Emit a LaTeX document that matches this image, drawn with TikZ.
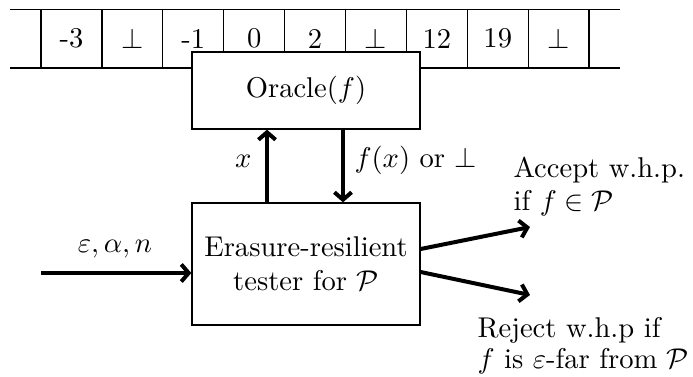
\documentclass[tikz,border=0pt]{standalone}
\usetikzlibrary{arrows.meta,calc}
\begin{document}
\begin{tikzpicture}[x=0.35pt,y=-0.35pt,
  thin line/.style={line width=0.45pt},
  cell/.style={thin line,draw,rectangle,inner sep=0pt,
    minimum width=21.3pt,minimum height=20.5pt},
  block/.style={thin line,draw,fill=white,rectangle,inner sep=0pt,
    minimum width=79.8pt,align=center},
  flow/.style={line width=1.4pt,-{Straight Barb[length=2.6pt,width=6pt]}},
  lbl/.style={inner sep=0pt}]
\useasboundingbox (0,0) rectangle (693,377);

% the array of values, with erased entries shown as \bot
\draw[thin line] (10,9.5) -- (620,9.5);
\draw[thin line] (10,68) -- (620,68);
\foreach \v [count=\i] in {-3,$\bot$,-1,0,2,$\bot$,12,19,$\bot$}
  \node[cell] (c\i) at ({41+60.9*(\i-0.5)},38.75) {\v};

% oracle and tester boxes
\node[block,minimum height=26.95pt] (oracle) at (306,90.5) {Oracle($f$)};
\node[block,minimum height=42.7pt] (tester) at (306,264)
  {Erasure-resilient\\tester for $\mathcal{P}$};

% queries and answers
\draw[flow] (267,0 |- tester.north) -- (267,0 |- oracle.south);
\draw[flow] (343,0 |- oracle.south) -- (343,0 |- tester.north);
\node[lbl,anchor=base east] (qx) at (252,167) {$x$};
\node[lbl,anchor=base west] (ans) at (354,167) {$f(x)$ or $\bot$};

% input parameters
\coordinate (in) at (41,273);
\draw[flow] (in) -- (tester.west |- in);
\node[lbl,anchor=base] (params) at (115,252) {$\varepsilon,\alpha,n$};

% outcomes
\coordinate (acc) at (530,227);
\coordinate (rej) at (530,295);
\draw[flow] ($(tester.east)+(0,-15)$) -- (acc);
\draw[flow] ($(tester.east)+(0,8)$) -- (rej);
\node[lbl,anchor=base west] (acc1) at (513,177) {Accept w.h.p.};
\node[lbl,anchor=base west] (acc2) at (513,210) {if $f\in\mathcal{P}$};
\node[lbl,anchor=base west] (rej1) at (477,337) {Reject w.h.p if};
\node[lbl,anchor=base west] (rej2) at (477,368) {$f$ is $\varepsilon$-far from $\mathcal{P}$};
\end{tikzpicture}
\end{document}
